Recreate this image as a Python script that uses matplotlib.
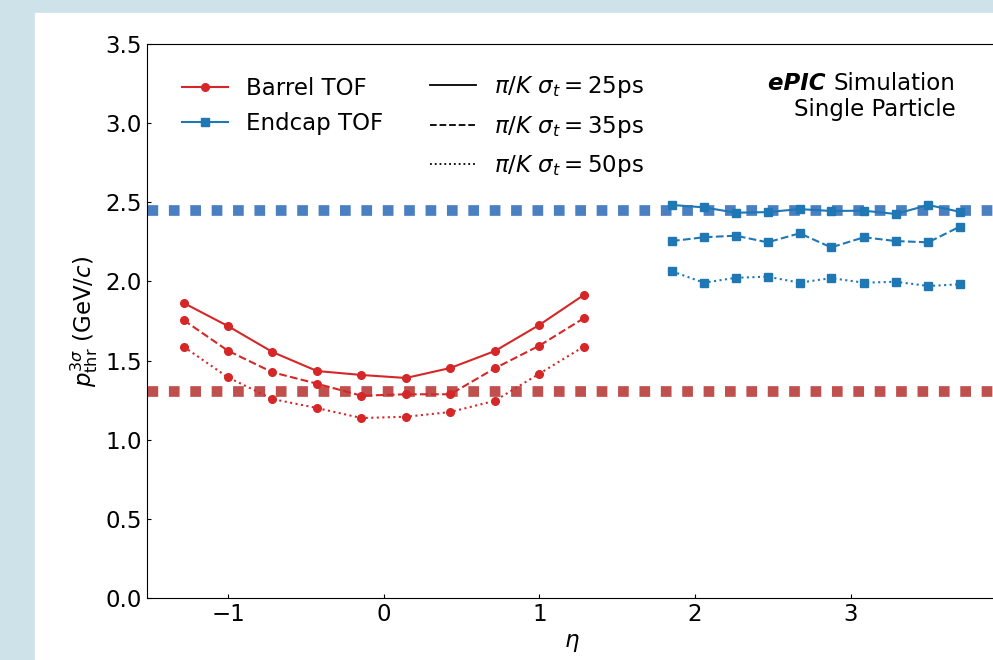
import matplotlib
matplotlib.use("Agg")
import matplotlib.pyplot as plt
from matplotlib.lines import Line2D
from matplotlib.patches import Rectangle

# barrel TOF points
eta_barrel = [-1.285, -1.0, -0.714, -0.428, -0.143, 0.143, 0.428, 0.714, 1.0, 1.285]
barrel_25 = [1.864, 1.718, 1.554, 1.434, 1.409, 1.390, 1.453, 1.560, 1.725, 1.914]
barrel_35 = [1.756, 1.562, 1.426, 1.354, 1.278, 1.287, 1.287, 1.451, 1.594, 1.767]
barrel_50 = [1.588, 1.394, 1.257, 1.200, 1.137, 1.145, 1.175, 1.246, 1.417, 1.588]

# endcap TOF points
eta_endcap = [1.852, 2.057, 2.263, 2.466, 2.672, 2.875, 3.085, 3.290, 3.498, 3.701]
endcap_25 = [2.483, 2.468, 2.434, 2.438, 2.457, 2.445, 2.447, 2.426, 2.483, 2.440]
endcap_35 = [2.255, 2.279, 2.289, 2.247, 2.304, 2.215, 2.279, 2.255, 2.247, 2.346]
endcap_50 = [2.064, 1.992, 2.023, 2.030, 1.992, 2.021, 1.992, 1.998, 1.971, 1.982]

# momentum thresholds
thr_endcap = 2.45
thr_barrel = 1.31

sigmas = ["25", "35", "50"]
styles = ["-", "--", ":"]

red = "#d62728"
blue = "#1f77b4"
fs = 16.5

plt.rcParams["font.size"] = fs

fig = plt.figure(figsize=(9.93, 6.6), dpi=100, facecolor="#cde2e9")
fig.patches.append(Rectangle((35 / 993, 0), 1, (660 - 13) / 660,
                             transform=fig.transFigure, color="white", zorder=-10))
ax = fig.add_axes([147 / 993, 62 / 660, 850 / 993, 554 / 660])

ax.axhline(thr_endcap, color="#4a7fc1", lw=7.7, ls=(0, (1, 1)), zorder=1)
ax.axhline(thr_barrel, color="#c0504d", lw=7.7, ls=(0, (1, 1)), zorder=1)

for ys, ls in zip([barrel_25, barrel_35, barrel_50], styles):
    ax.plot(eta_barrel, ys, ls=ls, marker="o", color=red, lw=1.5, ms=5.5, zorder=3)
for ys, ls in zip([endcap_25, endcap_35, endcap_50], styles):
    ax.plot(eta_endcap, ys, ls=ls, marker="s", color=blue, lw=1.5, ms=5.5, zorder=3)

ax.set_xlim(-1.52, 3.94)
ax.set_ylim(0, 3.5)
ax.set_xticks([-1, 0, 1, 2, 3])
ax.set_yticks([0, 0.5, 1, 1.5, 2, 2.5, 3, 3.5])
ax.set_yticklabels(["%.1f" % v for v in ax.get_yticks()])
ax.tick_params(direction="in", length=3, labelsize=fs)
ax.set_xlabel(r"$\eta$")
ax.set_ylabel(r"$p_{\rm thr}^{3\sigma}$ (GeV/$c$)")

# detector legend
det_handles = [Line2D([], [], color=red, marker="o", lw=1.5, ms=5.5),
               Line2D([], [], color=blue, marker="s", lw=1.5, ms=5.5)]
leg1 = ax.legend(det_handles, ["Barrel TOF", "Endcap TOF"], loc="upper left",
                 bbox_to_anchor=(0.041, 0.940), frameon=False, borderpad=0,
                 borderaxespad=0, fontsize=fs, labelspacing=0.5)
ax.add_artist(leg1)

# timing legend
res_handles = [Line2D([], [], color="black", ls=ls, lw=1.3) for ls in styles]
res_labels = [r"$\pi/K\ \sigma_t = %s$ps" % s for s in sigmas]
ax.legend(res_handles, res_labels, loc="upper left", bbox_to_anchor=(0.333, 0.945),
          frameon=False, borderpad=0, borderaxespad=0, fontsize=fs, labelspacing=0.58)

t1 = ax.text(0.951, 0.928, "Simulation", transform=ax.transAxes,
             ha="right", va="center", fontsize=fs)
ax.annotate("ePIC ", xy=(0, 0), xycoords=t1, ha="right", va="bottom",
            fontsize=fs, fontweight="bold", fontstyle="italic")
ax.text(0.951, 0.882, "Single Particle", transform=ax.transAxes,
        ha="right", va="center", fontsize=fs)

fig.savefig("out.png", dpi=100, facecolor=fig.get_facecolor())
